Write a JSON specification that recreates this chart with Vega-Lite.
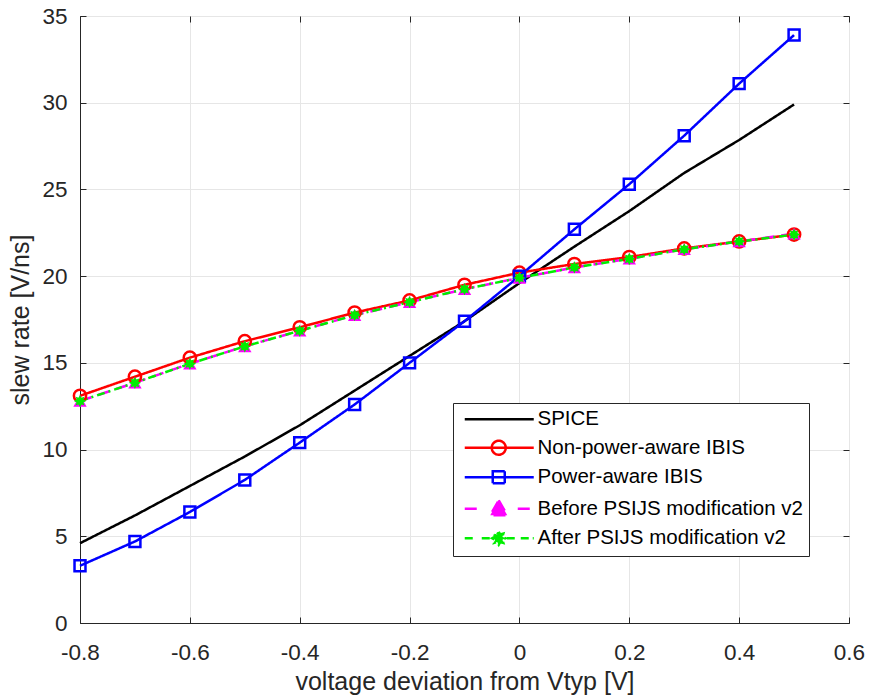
{
  "$schema": "https://vega.github.io/schema/vega-lite/v6.json",
  "width": 769,
  "height": 607,
  "autosize": {"type": "none"},
  "padding": {"left": 80, "top": 16, "right": 22, "bottom": 77},
  "background": "white",
  "config": {
    "font": "Liberation Sans",
    "view": {"stroke": "#262626", "strokeWidth": 1},
    "axis": {
      "labelFont": "Liberation Sans",
      "titleFont": "Liberation Sans",
      "labelFontSize": 22.5,
      "titleFontSize": 25,
      "titleFontWeight": "normal",
      "labelColor": "#262626",
      "titleColor": "#262626",
      "domainColor": "#262626",
      "tickColor": "#262626",
      "gridColor": "#e6e6e6",
      "gridWidth": 1,
      "tickSize": -6,
      "labelFlush": false,
      "labelOverlap": false
    },
    "legend": {
      "labelFont": "Liberation Sans",
      "labelFontSize": 20.5,
      "labelColor": "#000000"
    }
  },
  "data": {
    "values": [
      {"x": -0.8, "y": 4.6, "s": "SPICE"},
      {"x": -0.7, "y": 6.2, "s": "SPICE"},
      {"x": -0.6, "y": 7.9, "s": "SPICE"},
      {"x": -0.5, "y": 9.6, "s": "SPICE"},
      {"x": -0.4, "y": 11.4, "s": "SPICE"},
      {"x": -0.3, "y": 13.4, "s": "SPICE"},
      {"x": -0.2, "y": 15.4, "s": "SPICE"},
      {"x": -0.1, "y": 17.4, "s": "SPICE"},
      {"x": 0.0, "y": 19.6, "s": "SPICE"},
      {"x": 0.1, "y": 21.7, "s": "SPICE"},
      {"x": 0.2, "y": 23.75, "s": "SPICE"},
      {"x": 0.3, "y": 25.95, "s": "SPICE"},
      {"x": 0.4, "y": 27.85, "s": "SPICE"},
      {"x": 0.5, "y": 29.9, "s": "SPICE"},

      {"x": -0.8, "y": 13.1, "s": "Non-power-aware IBIS"},
      {"x": -0.7, "y": 14.2, "s": "Non-power-aware IBIS"},
      {"x": -0.6, "y": 15.3, "s": "Non-power-aware IBIS"},
      {"x": -0.5, "y": 16.25, "s": "Non-power-aware IBIS"},
      {"x": -0.4, "y": 17.05, "s": "Non-power-aware IBIS"},
      {"x": -0.3, "y": 17.9, "s": "Non-power-aware IBIS"},
      {"x": -0.2, "y": 18.6, "s": "Non-power-aware IBIS"},
      {"x": -0.1, "y": 19.5, "s": "Non-power-aware IBIS"},
      {"x": 0.0, "y": 20.2, "s": "Non-power-aware IBIS"},
      {"x": 0.1, "y": 20.7, "s": "Non-power-aware IBIS"},
      {"x": 0.2, "y": 21.1, "s": "Non-power-aware IBIS"},
      {"x": 0.3, "y": 21.6, "s": "Non-power-aware IBIS"},
      {"x": 0.4, "y": 22.0, "s": "Non-power-aware IBIS"},
      {"x": 0.5, "y": 22.4, "s": "Non-power-aware IBIS"},

      {"x": -0.8, "y": 3.3, "s": "Power-aware IBIS"},
      {"x": -0.7, "y": 4.7, "s": "Power-aware IBIS"},
      {"x": -0.6, "y": 6.4, "s": "Power-aware IBIS"},
      {"x": -0.5, "y": 8.25, "s": "Power-aware IBIS"},
      {"x": -0.4, "y": 10.4, "s": "Power-aware IBIS"},
      {"x": -0.3, "y": 12.6, "s": "Power-aware IBIS"},
      {"x": -0.2, "y": 15.0, "s": "Power-aware IBIS"},
      {"x": -0.1, "y": 17.4, "s": "Power-aware IBIS"},
      {"x": 0.0, "y": 20.0, "s": "Power-aware IBIS"},
      {"x": 0.1, "y": 22.7, "s": "Power-aware IBIS"},
      {"x": 0.2, "y": 25.3, "s": "Power-aware IBIS"},
      {"x": 0.3, "y": 28.1, "s": "Power-aware IBIS"},
      {"x": 0.4, "y": 31.1, "s": "Power-aware IBIS"},
      {"x": 0.5, "y": 33.9, "s": "Power-aware IBIS"},

      {"x": -0.8, "y": 12.8, "s": "Before PSIJS modification v2"},
      {"x": -0.7, "y": 13.85, "s": "Before PSIJS modification v2"},
      {"x": -0.6, "y": 14.95, "s": "Before PSIJS modification v2"},
      {"x": -0.5, "y": 15.95, "s": "Before PSIJS modification v2"},
      {"x": -0.4, "y": 16.85, "s": "Before PSIJS modification v2"},
      {"x": -0.3, "y": 17.75, "s": "Before PSIJS modification v2"},
      {"x": -0.2, "y": 18.5, "s": "Before PSIJS modification v2"},
      {"x": -0.1, "y": 19.25, "s": "Before PSIJS modification v2"},
      {"x": 0.0, "y": 19.9, "s": "Before PSIJS modification v2"},
      {"x": 0.1, "y": 20.5, "s": "Before PSIJS modification v2"},
      {"x": 0.2, "y": 21.0, "s": "Before PSIJS modification v2"},
      {"x": 0.3, "y": 21.55, "s": "Before PSIJS modification v2"},
      {"x": 0.4, "y": 22.0, "s": "Before PSIJS modification v2"},
      {"x": 0.5, "y": 22.45, "s": "Before PSIJS modification v2"},

      {"x": -0.8, "y": 12.8, "s": "After PSIJS modification v2"},
      {"x": -0.7, "y": 13.85, "s": "After PSIJS modification v2"},
      {"x": -0.6, "y": 14.95, "s": "After PSIJS modification v2"},
      {"x": -0.5, "y": 15.95, "s": "After PSIJS modification v2"},
      {"x": -0.4, "y": 16.85, "s": "After PSIJS modification v2"},
      {"x": -0.3, "y": 17.75, "s": "After PSIJS modification v2"},
      {"x": -0.2, "y": 18.5, "s": "After PSIJS modification v2"},
      {"x": -0.1, "y": 19.25, "s": "After PSIJS modification v2"},
      {"x": 0.0, "y": 19.9, "s": "After PSIJS modification v2"},
      {"x": 0.1, "y": 20.5, "s": "After PSIJS modification v2"},
      {"x": 0.2, "y": 21.0, "s": "After PSIJS modification v2"},
      {"x": 0.3, "y": 21.55, "s": "After PSIJS modification v2"},
      {"x": 0.4, "y": 22.0, "s": "After PSIJS modification v2"},
      {"x": 0.5, "y": 22.4, "s": "After PSIJS modification v2"}
    ]
  },
  "layer": [
    {
      "mark": {"type": "line", "strokeWidth": 2.5},
      "encoding": {
        "x": {
          "field": "x", "type": "quantitative",
          "scale": {"domain": [-0.8, 0.6], "nice": false, "zero": false},
          "axis": {
            "orient": "bottom",
            "title": "voltage deviation from Vtyp [V]",
            "values": [-0.8, -0.6, -0.4, -0.2, 0, 0.2, 0.4, 0.6],
            "labelExpr": "replace(format(datum.value, '.1~f'), '\u2212', '-')",
            "labelPadding": 24,
            "titlePadding": 6
          }
        },
        "y": {
          "field": "y", "type": "quantitative",
          "scale": {"domain": [0, 35], "nice": false},
          "axis": {
            "orient": "left",
            "title": "slew rate [V/ns]",
            "values": [0, 5, 10, 15, 20, 25, 30, 35],
            "labelPadding": 19,
            "titlePadding": 8
          }
        },
        "color": {
          "field": "s", "type": "nominal",
          "scale": {
            "domain": ["SPICE", "Non-power-aware IBIS", "Power-aware IBIS", "Before PSIJS modification v2", "After PSIJS modification v2"],
            "range": ["#000000", "#ff0000", "#0000ff", "#ff00ff", "#00ee00"]
          },
          "sort": null,
          "legend": {
            "title": null,
            "orient": "none",
            "legendX": 373,
            "legendY": 387,
            "strokeColor": "#262626",
            "fillColor": "white",
            "padding": 6,
            "rowPadding": 5.5,
            "symbolSize": 100,
            "symbolStrokeWidth": 2.5,
            "symbolType": "circle",
            "labelOffset": 58,
            "labelLimit": 0,
            "encoding": {
              "symbols": {
                "shape": {"value": {"expr": "datum.value == 'SPICE' ? 'M-0.9,0H12.9' : datum.value == 'Non-power-aware IBIS' ? 'M-0.9,0H12.9M4.5,0A1.4,1.4,0,1,1,7.3,0A1.4,1.4,0,1,1,4.5,0' : datum.value == 'Power-aware IBIS' ? 'M-0.9,0H12.9M4.7,-1.2H7.1V1.2H4.7Z' : datum.value == 'Before PSIJS modification v2' ? 'M-0.9,0H2.1M9.7,0H12.9M5.9,-1.7L7.6,1.3L4.2,1.3Z' : 'M-0.9,0H1.5M2.5,0H4.3M7.5,0H9.3M10.3,0H12.9M5.9,-1.3L6.21,-0.74L6.82,-0.92L6.64,-0.31L7.2,0L6.64,0.31L6.82,0.92L6.21,0.74L5.9,1.3L5.59,0.74L4.98,0.92L5.16,0.31L4.6,0L5.16,-0.31L4.98,-0.92L5.59,-0.74Z'"}},
                "fill": {"value": {"expr": "datum.value == 'Before PSIJS modification v2' ? '#ff00ff' : datum.value == 'After PSIJS modification v2' ? '#00ee00' : 'transparent'"}},
                "fillOpacity": {"value": 1},
                "strokeWidth": {"value": 2.5},
                "size": {"value": 100}
              }
            }
          }
        },
        "strokeDash": {
          "field": "s", "type": "nominal",
          "scale": {
            "domain": ["SPICE", "Non-power-aware IBIS", "Power-aware IBIS", "Before PSIJS modification v2", "After PSIJS modification v2"],
            "range": [[1, 0], [1, 0], [1, 0], [12, 7], [8, 4, 2, 4]]
          },
          "legend": null
        },
        "order": {"field": "x"}
      }
    },
    {
      "transform": [{"filter": "datum.s == 'Non-power-aware IBIS'"}],
      "mark": {"type": "point", "shape": "circle", "filled": false, "color": "#ff0000", "strokeWidth": 2.5, "opacity": 1, "size": 150},
      "encoding": {
        "x": {"field": "x", "type": "quantitative", "axis": null},
        "y": {"field": "y", "type": "quantitative", "axis": null}
      }
    },
    {
      "transform": [{"filter": "datum.s == 'Power-aware IBIS'"}],
      "mark": {"type": "point", "shape": "square", "filled": false, "color": "#0000ff", "strokeWidth": 2.5, "opacity": 1, "size": 120},
      "encoding": {
        "x": {"field": "x", "type": "quantitative", "axis": null},
        "y": {"field": "y", "type": "quantitative", "axis": null}
      }
    },
    {
      "transform": [{"filter": "datum.s == 'Before PSIJS modification v2'"}],
      "mark": {"type": "point", "shape": "triangle-up", "filled": true, "color": "#ff00ff", "opacity": 1, "size": 180},
      "encoding": {
        "x": {"field": "x", "type": "quantitative", "axis": null},
        "y": {"field": "y", "type": "quantitative", "axis": null}
      }
    },
    {
      "transform": [{"filter": "datum.s == 'After PSIJS modification v2'"}],
      "mark": {"type": "point", "shape": "M0,-1L0.23,-0.55L0.71,-0.71L0.55,-0.23L1,0L0.55,0.23L0.71,0.71L0.23,0.55L0,1L-0.23,0.55L-0.71,0.71L-0.55,0.23L-1,0L-0.55,-0.23L-0.71,-0.71L-0.23,-0.55Z", "filled": true, "color": "#00ee00", "opacity": 1, "size": 150},
      "encoding": {
        "x": {
          "field": "x", "type": "quantitative",
          "axis": {"orient": "top", "labels": false, "title": null, "grid": false, "domain": false, "values": [-0.8, -0.6, -0.4, -0.2, 0, 0.2, 0.4, 0.6]}
        },
        "y": {
          "field": "y", "type": "quantitative",
          "axis": {"orient": "right", "labels": false, "title": null, "grid": false, "domain": false, "values": [0, 5, 10, 15, 20, 25, 30, 35]}
        }
      }
    }
  ]
}
